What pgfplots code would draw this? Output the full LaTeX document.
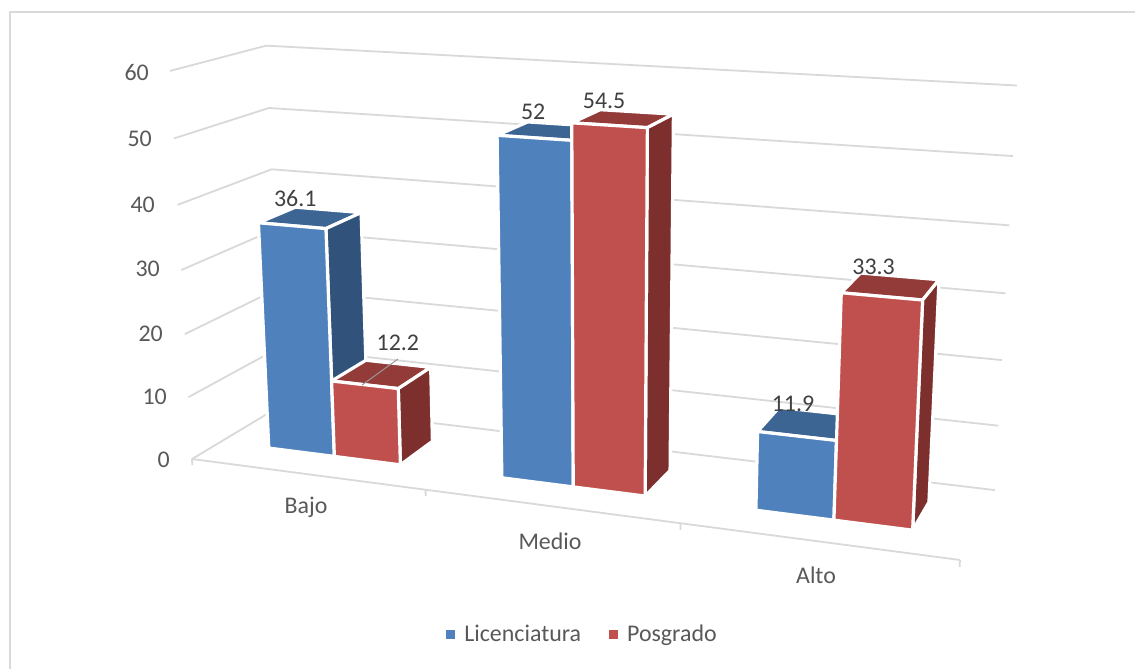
\documentclass[border=0pt]{standalone}
\usepackage{fontspec}
\setmainfont{Carlito}
\usepackage{pgfplots}
\pgfplotsset{compat=1.18}

\definecolor{gridgrey}{HTML}{D9D9D9}
\definecolor{axistext}{HTML}{595959}
\definecolor{valuetext}{HTML}{404040}
\definecolor{blueFront}{HTML}{4F81BD}
\definecolor{blueTop}{HTML}{3C6594}
\definecolor{blueSide}{HTML}{31527B}
\definecolor{redFront}{HTML}{C0504D}
\definecolor{redTop}{HTML}{923B39}
\definecolor{redSide}{HTML}{7D2F2E}

% Perspective projection of (u = category position, v = depth, h = value) onto the page
\newcommand\PW{(1-0.04202*\thisrow{u}+0.0834*\thisrow{v}-0.000848*\thisrow{h})}
\newcommand\PX{((192+215.65*\thisrow{u}+113.5*\thisrow{v}-0.5105*\thisrow{h})/\PW)}
\newcommand\PY{((459+10.127*\thisrow{u}-20.18*\thisrow{v}-6.528*\thisrow{h})/\PW)}

\pgfplotsset{
  /pgfplots/table/persp/.style={row sep=\\, x expr=\PX, y expr=\PY},
  face/.style={fill=#1, draw=white, line width=3.2bp, line join=round},
  wall/.style={draw=gridgrey, line width=1.8bp, line join=miter},
}

% One horizontal level of the side wall and back wall
\newcommand\gridlevel[1]{%
  \addplot[wall] table[persp] {u v h\\ 0 0 #1\\ 0 1 #1\\ 3 1 #1\\};
}
% A tick under the front floor edge
\newcommand\floortick[1]{%
  \addplot[wall] table[persp] {u v h\\ #1 0 0\\ #1 0 -1\\};
}
% One cuboid: left edge, right edge, value, three face colours
\newcommand\drawbar[6]{%
  \addplot[face=#5] table[persp] {u v h\\ #1 0.30 #3\\ #2 0.30 #3\\ #2 0.71 #3\\ #1 0.71 #3\\} -- cycle;
  \addplot[face=#6] table[persp] {u v h\\ #2 0.30 0\\ #2 0.71 0\\ #2 0.71 #3\\ #2 0.30 #3\\} -- cycle;
  \addplot[face=#4] table[persp] {u v h\\ #1 0.30 0\\ #2 0.30 0\\ #2 0.30 #3\\ #1 0.30 #3\\} -- cycle;
}

\begin{document}
\begin{tikzpicture}
\begin{axis}[
  scale only axis, width=1135bp, height=669bp,
  xmin=0, xmax=1135, ymin=0, ymax=669, y dir=reverse,
  axis lines=none,
  axis background/.style={fill=white},
  font=\fontsize{24}{28}\selectfont,
  /pgf/number format/assume math mode=true,
  /pgf/number format/fixed,
  legend style={at={(axis cs:582.5,634)}, anchor=center, draw=none, fill=none,
    legend columns=2, font=\fontsize{24}{28}\selectfont, text=axistext,
    /tikz/every odd column/.append style={column sep=8bp},
    /tikz/every even column/.append style={column sep=26bp}},
]
  % legend
  \addlegendimage{only marks, mark=square*, mark size=4bp, color=blueFront}
  \addlegendentry{Licenciatura}
  \addlegendimage{only marks, mark=square*, mark size=4bp, color=redFront}
  \addlegendentry{Posgrado}

  % chart frame
  \addplot[draw=gridgrey, line width=1.5bp] coordinates {(10,669) (10,12) (1135,12)};

  % walls and floor
  \gridlevel{0}\gridlevel{10}\gridlevel{20}\gridlevel{30}
  \gridlevel{40}\gridlevel{50}\gridlevel{60}
  \addplot[wall] table[persp] {u v h\\ 0 0 0\\ 3 0 0\\};
  \floortick{0}\floortick{1}\floortick{2}\floortick{3}

  % bars
  \drawbar{0.218}{0.508}{36.1}{blueFront}{blueTop}{blueSide}
  \drawbar{0.508}{0.793}{12.2}{redFront}{redTop}{redSide}
  \drawbar{1.218}{1.508}{52}{blueFront}{blueTop}{blueSide}
  \drawbar{1.508}{1.793}{54.5}{redFront}{redTop}{redSide}
  \drawbar{2.218}{2.508}{11.9}{blueFront}{blueTop}{blueSide}
  \drawbar{2.508}{2.793}{33.3}{redFront}{redTop}{redSide}

  % leader line of the 12.2 label
  \addplot[draw=gray!80, line width=1bp] coordinates {(398,359) (362,385)};

  % value labels, offset from the centre of each bar top
  \addplot[draw=none, point meta=explicit, nodes near coords,
    every node near coord/.append style={anchor=center, text=valuetext, inner sep=0pt,
      font=\fontsize{24}{28}\selectfont}]
    table[row sep=\\, x expr=\PX+\thisrow{dx}, y expr=\PY+\thisrow{dy}, meta=h] {
    u v h dx dy\\
    0.36 0.5 36.1 -14 -19\\
    0.64 0.5 12.2 19 -31\\
    1.36 0.5 52 -15 -19\\
    1.64 0.5 54.5 -16 -18\\
    2.36 0.5 11.9 -13 -20\\
    2.64 0.5 33.3 -14 -19\\
  };

  % value axis numbers
  \addplot[draw=none, point meta=explicit, nodes near coords,
    every node near coord/.append style={anchor=east, text=axistext, inner sep=0pt,
      font=\fontsize{24}{28}\selectfont}]
    table[row sep=\\, x=x, y=y, meta=h] {
    x y h\\
    149 73 60\\
    152 139 50\\
    155 205 40\\
    160 269 30\\
    163 334 20\\
    167 397 10\\
    170 460 0\\
  };

  % category names
  \node[text=axistext] at (axis cs:306,507) {Bajo};
  \node[text=axistext] at (axis cs:550,541) {Medio};
  \node[text=axistext] at (axis cs:816,575) {Alto};
\end{axis}
\end{tikzpicture}
\end{document}
